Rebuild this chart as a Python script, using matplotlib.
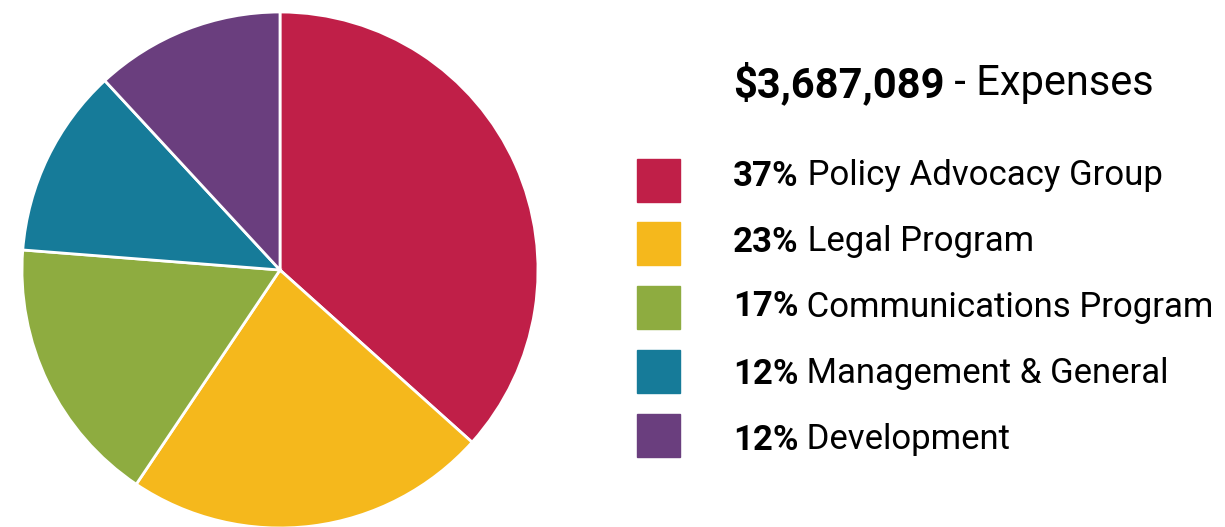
import matplotlib
matplotlib.use("Agg")
import matplotlib.pyplot as plt
from matplotlib.patches import Rectangle

categories = ["Policy Advocacy Group", "Legal Program", "Communications Program",
              "Management & General", "Development"]
values = [37, 23, 17, 12, 12]
colors = ["#C01F48", "#F5B81C", "#8EAC40", "#167B99", "#6A3E7E"]
total_label = "$3,687,089"
title_rest = " - Expenses"

fam = "Roboto"

W, H = 1225, 527
fig = plt.figure(figsize=(W / 100, H / 100), dpi=100)

cx, cy, r = 280, 270, 258
ax = fig.add_axes([(cx - r) / W, (H - cy - r) / H, 2 * r / W, 2 * r / H])
ax.pie(values, colors=colors, startangle=90, counterclock=False, radius=1,
       wedgeprops=dict(edgecolor="white", linewidth=2))
ax.set_xlim(-1.0, 1.0)
ax.set_ylim(-1.0, 1.0)
ax.set_aspect("equal")
ax.axis("off")

renderer = fig.canvas.get_renderer()

def two_part(x_px, y_px, bold, rest, size):
    t1 = fig.text(x_px / W, 1 - y_px / H, bold, fontsize=size, fontweight="bold",
                  family=fam, va="center", ha="left", color="black")
    bb = t1.get_window_extent(renderer=renderer)
    fig.text(bb.x1 / W, 1 - y_px / H, rest, fontsize=size, family=fam,
             va="center", ha="left", color="black")

two_part(733, 84, total_label, title_rest, 30)

square_ys = [180, 243, 307, 371, 435]
text_ys = [176, 242, 307, 374, 440]
for cat, v, c, y, ty in zip(categories, values, colors, square_ys, text_ys):
    fig.patches.append(Rectangle((637 / W, 1 - (y + 21.5) / H), 43 / W, 43 / H,
                                 transform=fig.transFigure, color=c))
    two_part(733, ty, f"{v}%", f" {cat}", 25)

fig.savefig("out.png", dpi=100)
